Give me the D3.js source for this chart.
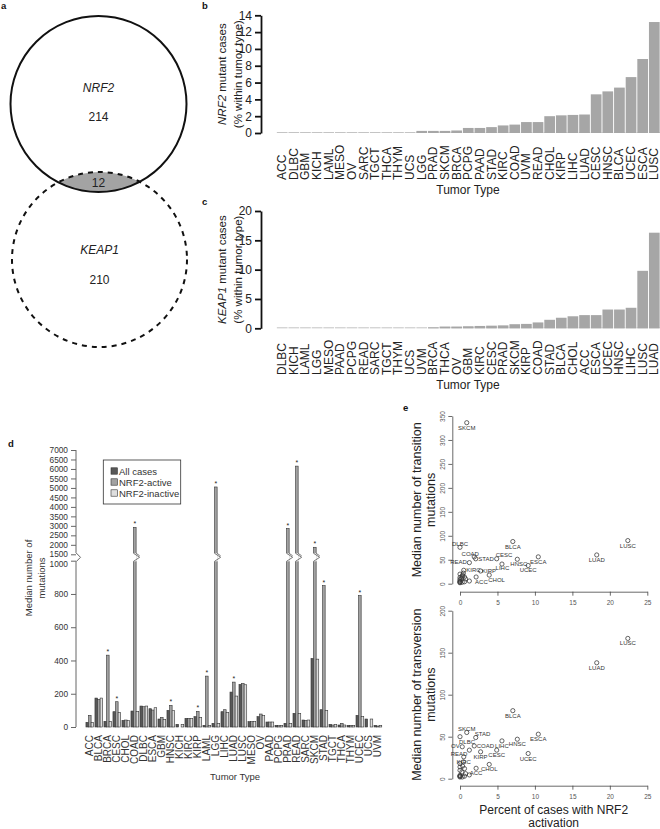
<!DOCTYPE html>
<html><head><meta charset="utf-8">
<script src="https://cdn.jsdelivr.net/npm/d3@7"></script>
<style>
body{margin:0;background:#fff}
svg{display:block;font-family:"Liberation Sans",Arial,sans-serif}
</style>
</head><body>
<svg id="fig" width="660" height="829"></svg>
<script>
// ---------------- DATA ----------------
// Panel a (Venn)
const vennGenes = ["NRF2", "KEAP1"];
const vennCounts = [214, 210];
const vennOverlap = 12;

// Panel b
const bCats = ["ACC","DLBC","GBM","KICH","LAML","MESO","OV","SARC","TGCT","THCA","THYM","UCS","LGG","PRAD","SKCM","BRCA","PCPG","PAAD","STAD","KIRC","COAD","UVM","READ","CHOL","KIRP","LIHC","LUAD","CESC","HNSC","BLCA","UCEC","ESCA","LUSC"];
const bValues = [0,0,0,0,0,0,0,0,0,0,0,0,0.25,0.25,0.25,0.3,0.6,0.6,0.7,0.9,1.0,1.3,1.3,2.0,2.1,2.15,2.2,4.6,4.95,5.4,6.65,8.8,13.2];
const bTicks = [0,2,4,6,8,10,12,14];

// Panel c
const cCats = ["DLBC","KICH","LAML","LGG","MESO","PAAD","PCPG","READ","SARC","TGCT","THYM","UCS","UVM","BRCA","THCA","OV","GBM","KIRC","CESC","PRAD","SKCM","KIRP","COAD","STAD","BLCA","CHOL","ACC","ESCA","UCEC","HNSC","LIHC","LUSC","LUAD"];
const cValues = [0,0,0,0,0,0,0,0,0,0,0,0,0,0.15,0.3,0.3,0.35,0.4,0.45,0.5,0.7,0.75,1.0,1.45,1.8,2.05,2.25,2.25,3.2,3.2,3.5,9.8,16.3];
const cTicks = [0,5,10,15,20];

// Panel d
const dCats = ["ACC","BLCA","BRCA","CESC","CHOL","COAD","DLBC","ESCA","GBM","HNSC","KICH","KIRC","KIRP","LAML","LGG","LIHC","LUAD","LUSC","MESO","OV","PAAD","PCPG","PRAD","READ","SARC","SKCM","STAD","TGCT","THCA","THYM","UCEC","UCS","UVM"];
const dSeries = ["All cases","NRF2-active","NRF2-inactive"];
const dAll      = [28,174,34,92,40,96,126,110,48,100,16,52,62,10,22,92,210,256,32,62,30,10,22,82,42,412,104,16,12,10,70,48,10];
const dActive   = [70,166,432,152,42,2920,122,102,58,130,0,52,94,306,5050,104,270,262,32,78,30,8,2860,6150,40,1870,850,12,22,10,790,0,6];
const dInactive = [28,174,34,88,38,94,126,116,46,98,16,52,58,10,22,88,186,254,32,68,30,10,20,82,42,408,100,16,12,10,62,48,10];
const dSignificant = ["BRCA","CESC","COAD","HNSC","KIRP","LAML","LGG","LUAD","PRAD","READ","SKCM","STAD","UCEC"];
const dTicks = [0,200,400,600,800,1000,1500,2000,2500,3000,3500,4000,4500,5000,5500,6000,6500,7000];

// Panel e
const eTypes = ["ACC","BLCA","BRCA","CESC","CHOL","COAD","DLBC","ESCA","GBM","HNSC","KICH","KIRC","KIRP","LAML","LGG","LIHC","LUAD","LUSC","MESO","OV","PAAD","PCPG","PRAD","READ","SARC","SKCM","STAD","TGCT","THCA","THYM","UCEC","UCS","UVM"];
const ePercent      = [2.15,7.05,0.45,4.9,3.9,1.9,0,10.45,0.35,7.65,0,0.5,2.75,0,0.25,5.6,18.25,22.4,0,0.3,0.6,0.6,0.75,1.25,0,0.9,2.1,0,0.3,0,9.1,0,1.25];
const eTransition   = [14,88,22,52,18,56,76,56,18,51,6,28,26.5,4,12,41,60,90,9,16,14,4,10,44,13,336,52,3,3,2,38,20,5.6];
const eTransversion = [12.4,81,20,34,17,39,50,53,15,47,4,26,32,3,8,45,138,167,10,38,12,3,6,34,14,55,49,3,2,2,30,18,4.5];
const eTopTicks = [0,50,100,150,200,250,300,350];
const eBotTicks = [0,50,100,150,200];
const eXTicks = [0,5,10,15,20,25];
// label placement codes (b=below, a=above, r=right, l=left, corners)
const eTopLabelPos = {SKCM:"b",DLBC:"a",BLCA:"b",LUSC:"b",LUAD:"b",COAD:"al",STAD:"r",READ:"l",CESC:"ar",HNSC:"b3",ESCA:"b",LIHC:"b2",UCEC:"b",KIRC:"r",KIRP:"r1",CHOL:"br",ACC:"br"};
const eBotLabelPos = {LUSC:"b",LUAD:"b",BLCA:"b",SKCM:"a",STAD:"ar",DLBC:"br",ESCA:"b",HNSC:"b",LIHC:"b",COAD:"r",OV:"l",CESC:"b",READ:"bl",KIRP:"b",UCEC:"b",KIRC:"b",CHOL:"b",ACC:"b"};

// ---------------- DRAWING ----------------
const svg = d3.select("#fig");
const FF = '"Liberation Sans",Arial,sans-serif';

// panel letters
[["a",1,9.3],["b",202,9],["c",202,205],["d",8,447],["e",403,411]].forEach(([t,x,y])=>{
  svg.append("text").attr("x",x).attr("y",y).attr("font-size",9.5).attr("font-weight","bold").attr("fill","#111").text(t);
});

// ---- Panel a: Venn ----
(function(){
  const g = svg.append("g");
  const top = {cx:98.5, cy:104, r:88};
  const bot = {cx:99.5, cy:259.5, r:87.5};
  const defs = svg.append("defs");
  defs.append("clipPath").attr("id","clipTop").append("circle").attr("cx",top.cx).attr("cy",top.cy).attr("r",top.r);
  g.append("circle").attr("cx",bot.cx).attr("cy",bot.cy).attr("r",bot.r)
    .attr("fill","#a3a3a3").attr("clip-path","url(#clipTop)");
  g.append("circle").attr("cx",top.cx).attr("cy",top.cy).attr("r",top.r)
    .attr("fill","none").attr("stroke","#111").attr("stroke-width",2);
  g.append("circle").attr("cx",bot.cx).attr("cy",bot.cy).attr("r",bot.r)
    .attr("fill","none").attr("stroke","#111").attr("stroke-width",2).attr("stroke-dasharray","5,5");
  const tx = [[vennGenes[0],top.cx,88,true],[String(vennCounts[0]),top.cx,117,false],[String(vennOverlap),top.cx,183,false],
              [vennGenes[1],bot.cx,250,true],[String(vennCounts[1]),bot.cx,280,false]];
  tx.forEach(([t,x,y,it])=>{
    g.append("text").attr("x",x).attr("y",y).attr("text-anchor","middle").attr("dominant-baseline","central")
      .attr("font-size",12).attr("font-style",it?"italic":"normal").attr("fill","#222").text(t);
  });
})();

// ---- Panels b & c ----
function drawPct(cats, vals, ticks, y0, y1, labelBottom, titleGene){
  const g = svg.append("g");
  const x = d3.scaleBand().domain(cats).range([276.5,660]).paddingInner(0.08).paddingOuter(0.03);
  const y = d3.scaleLinear().domain([0, ticks[ticks.length-1]]).range([y0, y1]);
  // baseline stubs (visible for zero-value categories)
  g.selectAll("line.zero").data(cats).join("line").attr("class","zero")
    .attr("x1", d=>x(d)).attr("x2", d=>x(d)+x.bandwidth())
    .attr("y1", y(0)-0.5).attr("y2", y(0)-0.5).attr("stroke","#c4c4c4").attr("stroke-width",1);
  g.selectAll("rect").data(cats).join("rect")
    .attr("x", d=>x(d)).attr("width", x.bandwidth())
    .attr("y", (d,i)=>y(vals[i])).attr("height",(d,i)=>y(0)-y(vals[i]))
    .attr("fill","#a6a6a6");
  const ax = g.append("g").attr("transform","translate(261,0)")
    .call(d3.axisLeft(y).tickValues(ticks).tickSize(6).tickSizeOuter(0).tickPadding(3));
  ax.select(".domain").attr("stroke","#111").attr("stroke-width",1.8);
  ax.selectAll(".tick line").attr("stroke","#111").attr("stroke-width",1.8);
  ax.selectAll(".tick text").attr("font-size",12).attr("fill","#222").attr("font-family",FF);
  // category labels
  g.selectAll("text.cat").data(cats).join("text").attr("class","cat")
    .attr("transform", d=>`translate(${x(d)+x.bandwidth()/2},${labelBottom}) rotate(-90)`)
    .attr("text-anchor","start").attr("dominant-baseline","central")
    .attr("font-size",12).attr("fill","#222").text(d=>d);
  g.append("text").attr("x",468).attr("y",labelBottom+13.5).attr("text-anchor","middle")
    .attr("font-size",12).attr("fill","#222").text("Tumor Type");
  const cy = (y0+y1)/2;
  const t1 = g.append("text").attr("transform",`translate(222,${cy}) rotate(-90)`)
    .attr("text-anchor","middle").attr("dominant-baseline","central").attr("font-size",11.5).attr("fill","#222");
  t1.append("tspan").attr("font-style","italic").text(titleGene);
  t1.append("tspan").text(" mutant cases");
  g.append("text").attr("transform",`translate(237.5,${cy}) rotate(-90)`)
    .attr("text-anchor","middle").attr("dominant-baseline","central").attr("font-size",11.5).attr("fill","#222")
    .text("(% within tumor type)");
}
drawPct(bCats, bValues, bTicks, 133, 15.3, 180, "NRF2");
drawPct(cCats, cValues, cTicks, 328.3, 211, 375, "KEAP1");

// ---- Panel d ----
(function(){
  const g = svg.append("g");
  const yd = d3.scaleLinear().domain([0,1000,1500,7000]).range([727,560.7,554.3,450]);
  const xd = d3.scaleBand().domain(dCats).range([85.5,382.2]).paddingInner(0.14).paddingOuter(0.05);
  const xs = d3.scaleBand().domain(dSeries).range([0,xd.bandwidth()]);
  const colors = {"All cases":"#585858","NRF2-active":"#a2a2a2","NRF2-inactive":"#dedede"};
  const seriesVals = {"All cases":dAll,"NRF2-active":dActive,"NRF2-inactive":dInactive};
  const breakTop = 553.3, breakBot = 561.3;
  dSeries.forEach(s=>{
    const vals = seriesVals[s];
    dCats.forEach((c,i)=>{
      const v = vals[i];
      if (v<=0) return;
      const bx = xd(c)+xs(s);
      g.append("rect").attr("x",bx).attr("width",xs.bandwidth())
        .attr("y",yd(v)).attr("height",yd(0)-yd(v))
        .attr("fill",colors[s]).attr("stroke","#333").attr("stroke-width",0.6);
      if (v>1000){
        g.append("rect").attr("x",bx-0.6).attr("width",xs.bandwidth()+1.2)
          .attr("y",breakTop).attr("height",breakBot-breakTop).attr("fill","#fff");
        const w = xs.bandwidth();
        g.append("path").attr("d",`M${bx},${breakTop}L${bx+w+3.5},${(breakTop+breakBot)/2}L${bx},${breakBot}`)
          .attr("fill","none").attr("stroke","#555").attr("stroke-width",0.8);
        g.append("path").attr("d",`M${bx+w},${breakTop}L${bx+w+3.5},${(breakTop+breakBot)/2-1.5}`)
          .attr("fill","none").attr("stroke","#555").attr("stroke-width",0.8);
      }
    });
  });
  // significance stars
  dSignificant.forEach(c=>{
    const i = dCats.indexOf(c);
    g.append("text").attr("x",xd(c)+xs("NRF2-active")+xs.bandwidth()/2).attr("y",yd(dActive[i])-1)
      .attr("text-anchor","middle").attr("font-size",7).attr("fill","#222").text("*");
  });
  // y axis
  const ax = g.append("g").attr("transform","translate(76,0)")
    .call(d3.axisLeft(yd).tickValues(dTicks).tickSize(5).tickSizeOuter(0).tickPadding(3).tickFormat(d3.format("d")));
  ax.select(".domain").remove();
  ax.selectAll(".tick line").attr("stroke","#666");
  ax.selectAll(".tick text").attr("font-size",8.3).attr("fill","#333").attr("font-family",FF)
    .attr("dy", d => d===1000 ? "0.70em" : "0.32em");
  g.append("path").attr("d",`M76,${yd(0)}V${breakBot+0.5}M76,${breakTop-0.5}V${yd(7000)}`).attr("stroke","#666").attr("fill","none");
  g.append("path").attr("d",`M76,${breakTop-0.5}L80.5,${(breakTop+breakBot)/2}L76,${breakBot+0.5}`).attr("stroke","#666").attr("fill","none");
  // y title
  g.append("text").attr("transform","translate(28,578) rotate(-90)").attr("text-anchor","middle").attr("dominant-baseline","central")
    .attr("font-size",9.5).attr("fill","#333").text("Median number of");
  g.append("text").attr("transform","translate(41.5,578) rotate(-90)").attr("text-anchor","middle").attr("dominant-baseline","central")
    .attr("font-size",9.5).attr("fill","#333").text("mutations");
  // x labels
  g.selectAll("text.cat").data(dCats).join("text").attr("class","cat")
    .attr("transform", d=>`translate(${xd(d)+xd.bandwidth()/2},735) rotate(-90)`)
    .attr("text-anchor","end").attr("dominant-baseline","central")
    .attr("font-size",10).attr("fill","#333").text(d=>d);
  g.append("text").attr("x",235).attr("y",779.5).attr("text-anchor","middle").attr("font-size",9.5).attr("fill","#333").text("Tumor Type");
  // legend
  const lg = g.append("g");
  lg.append("rect").attr("x",103.3).attr("y",460).attr("width",77.4).attr("height",44)
    .attr("fill","#fff").attr("stroke","#333").attr("stroke-width",0.8);
  dSeries.forEach((s,i)=>{
    const yy = 471 + i*11;
    lg.append("rect").attr("x",111).attr("y",yy-3.2).attr("width",6.4).attr("height",6.4)
      .attr("fill",colors[s]).attr("stroke","#333").attr("stroke-width",0.6);
    lg.append("text").attr("x",119).attr("y",yy).attr("dominant-baseline","central")
      .attr("font-size",9.5).attr("fill","#333").text(s);
  });
})();

// ---- Panel e ----
function drawScatter(yVals, yTicks, yRange, xAxisY, labelPos, title1){
  const g = svg.append("g");
  const x = d3.scaleLinear().domain([0,25]).range([460,647.3]);
  const y = d3.scaleLinear().domain([0,yTicks[yTicks.length-1]]).range(yRange);
  // axes
  const ax = g.append("g").attr("transform","translate(452.3,0)")
    .call(d3.axisLeft(y).tickValues(yTicks).tickSize(4).tickSizeOuter(0));
  ax.selectAll(".tick text").attr("transform","rotate(-90)").attr("x",0).attr("y",-7.5).attr("dy",0)
    .attr("text-anchor","middle").attr("font-size",6.5).attr("fill","#555");
  const bx = g.append("g").attr("transform",`translate(0,${xAxisY})`)
    .call(d3.axisBottom(x).tickValues(eXTicks).tickSize(4).tickSizeOuter(0));
  bx.selectAll(".tick text").attr("font-size",6.5).attr("fill","#555").attr("dy","0.9em");
  [ax,bx].forEach(a=>{a.select(".domain").attr("stroke","#444").attr("stroke-width",0.8);
    a.selectAll(".tick line").attr("stroke","#444").attr("stroke-width",0.8);
    a.selectAll("text").attr("font-family",FF);});
  // points
  g.selectAll("circle").data(eTypes).join("circle")
    .attr("cx",(d,i)=>x(ePercent[i])).attr("cy",(d,i)=>y(yVals[i])).attr("r",2.1)
    .attr("fill","none").attr("stroke","#333").attr("stroke-width",0.75);
  // labels
  const off = {b:[0,5,"middle"],b2:[0.5,4,"middle"],b3:[1.5,5,"middle"],a:[0,-3.5,"middle"],r:[2.5,0,"start"],r1:[1.5,0,"start"],
               l:[-2.5,-0.5,"end"],bl:[-2,3.8,"end"],ar:[-1,-3.5,"start"],br:[-1,5,"start"],al:[-4,-3,"middle"]};
  eTypes.forEach((t,i)=>{
    const p = labelPos[t]; if(!p) return;
    const o = off[p];
    g.append("text").attr("x",x(ePercent[i])+o[0]).attr("y",y(yVals[i])+o[1])
      .attr("text-anchor",o[2]).attr("dominant-baseline","central")
      .attr("font-size",6).attr("fill","#333").text(t);
  });
  const cy = (yRange[0]+yRange[1])/2;
  g.append("text").attr("transform",`translate(416.7,${cy}) rotate(-90)`).attr("text-anchor","middle")
    .attr("dominant-baseline","central").attr("font-size",12.5).attr("fill","#222").text(title1);
  g.append("text").attr("transform",`translate(430.5,${cy}) rotate(-90)`).attr("text-anchor","middle")
    .attr("dominant-baseline","central").attr("font-size",12.5).attr("fill","#222").text("mutations");
}
drawScatter(eTransition, eTopTicks, [583.7,416], 591.7, eTopLabelPos, "Median number of transition");
drawScatter(eTransversion, eBotTicks, [778.7,610.7], 785.7, eBotLabelPos, "Median number of transversion");
svg.append("text").attr("x",553.7).attr("y",814).attr("text-anchor","middle").attr("font-size",12).attr("fill","#222").text("Percent of cases with NRF2");
svg.append("text").attr("x",553.7).attr("y",827).attr("text-anchor","middle").attr("font-size",12).attr("fill","#222").text("activation");
</script>
</body></html>
